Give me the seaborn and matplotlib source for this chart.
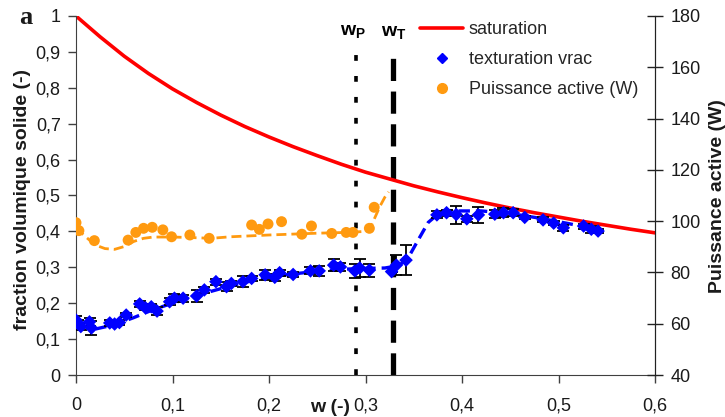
import matplotlib
matplotlib.use("Agg")
import matplotlib.pyplot as plt
import seaborn as sns
from matplotlib.ticker import MultipleLocator, FuncFormatter
from matplotlib.lines import Line2D

# --- saturation curve (solid volume fraction at saturation) ---
sat_w = [0.000, 0.025, 0.050, 0.075, 0.100, 0.125, 0.150, 0.175, 0.200, 0.225,
         0.250, 0.275, 0.300, 0.325, 0.350, 0.375, 0.400, 0.425, 0.450, 0.475,
         0.500, 0.525, 0.550, 0.575, 0.600]
sat_phi = [1.000, 0.942, 0.888, 0.840, 0.797, 0.759, 0.724, 0.692, 0.663, 0.636,
           0.611, 0.587, 0.565, 0.546, 0.527, 0.510, 0.494, 0.479, 0.465, 0.452,
           0.440, 0.428, 0.417, 0.406, 0.396]

# --- bulk texturing measurements (solid volume fraction) ---
tex_w = [0.000, 0.002, 0.005, 0.014, 0.016, 0.035, 0.040, 0.045, 0.052, 0.066,
         0.072, 0.078, 0.084, 0.097, 0.102, 0.111, 0.125, 0.133, 0.145, 0.156,
         0.161, 0.173, 0.182, 0.196, 0.206, 0.211, 0.225, 0.243, 0.252, 0.267,
         0.274, 0.289, 0.294, 0.304, 0.327, 0.332, 0.342, 0.374, 0.384, 0.394,
         0.405, 0.417, 0.434, 0.443, 0.453, 0.465, 0.484, 0.495, 0.505, 0.526,
         0.534, 0.541]
tex_phi = [0.153, 0.144, 0.135, 0.148, 0.131, 0.145, 0.142, 0.146, 0.167, 0.198,
           0.187, 0.190, 0.178, 0.204, 0.214, 0.214, 0.220, 0.237, 0.260, 0.246,
           0.255, 0.260, 0.269, 0.279, 0.272, 0.285, 0.280, 0.290, 0.290, 0.306,
           0.301, 0.290, 0.298, 0.292, 0.288, 0.306, 0.320, 0.446, 0.452, 0.447,
           0.435, 0.446, 0.448, 0.452, 0.452, 0.439, 0.432, 0.423, 0.410, 0.415,
           0.406, 0.401]
tex_err = [0.012, 0.008, 0.010, 0.012, 0.020, 0.008, 0.006, 0.006, 0.006, 0.008,
           0.006, 0.008, 0.012, 0.010, 0.012, 0.010, 0.016, 0.008, 0.008, 0.013,
           0.008, 0.016, 0.008, 0.014, 0.010, 0.008, 0.008, 0.010, 0.014, 0.016,
           0.010, 0.020, 0.025, 0.018, 0.000, 0.028, 0.042, 0.010, 0.008, 0.025,
           0.008, 0.023, 0.012, 0.013, 0.010, 0.005, 0.007, 0.006, 0.008, 0.007,
           0.010, 0.005]

# trend of the texturing data
tfit_w = [0.02, 0.04, 0.06, 0.08, 0.10, 0.12, 0.14, 0.16, 0.18, 0.20, 0.22, 0.25,
          0.28, 0.30, 0.32, 0.335, 0.345, 0.355, 0.365, 0.375, 0.39, 0.42, 0.45,
          0.48, 0.51, 0.54]
tfit_phi = [0.128, 0.140, 0.160, 0.182, 0.200, 0.216, 0.233, 0.248, 0.261, 0.272,
            0.280, 0.289, 0.295, 0.297, 0.298, 0.305, 0.330, 0.378, 0.425, 0.448,
            0.457, 0.457, 0.450, 0.437, 0.422, 0.405]

# --- active power (W) ---
pw_w = [0.000, 0.003, 0.019, 0.054, 0.062, 0.070, 0.079, 0.090, 0.099, 0.118,
        0.138, 0.182, 0.190, 0.199, 0.213, 0.234, 0.244, 0.265, 0.280, 0.287,
        0.304, 0.309]
pw_P = [99.4, 96.3, 92.4, 92.6, 95.6, 97.2, 97.6, 96.6, 93.9, 94.6,
        93.3, 98.5, 96.8, 98.9, 99.8, 94.9, 98.1, 95.2, 95.6, 95.6,
        97.2, 105.4]

# trend of the active power
pfit_w = [0.00, 0.01, 0.02, 0.03, 0.04, 0.05, 0.06, 0.07, 0.08, 0.10, 0.12, 0.14,
          0.16, 0.20, 0.25, 0.28, 0.30, 0.305, 0.31, 0.315, 0.32, 0.324]
pfit_P = [97.4, 93.9, 90.7, 89.3, 89.0, 90.1, 92.1, 93.3, 93.8, 93.8, 93.6, 93.3,
          93.9, 94.6, 95.3, 95.6, 96.0, 97.4, 101.6, 105.8, 109.3, 111.4]

# characteristic water contents
w_P = 0.29
w_T = 0.329

RED = "#FF0000"
BLUE = "#0000FF"
ORANGE = "#FF9A10"
INK = "#1a1a1a"

sns.set_style("ticks")
plt.rcParams["font.family"] = ["Liberation Sans", "DejaVu Sans"]
plt.rcParams["mathtext.fontset"] = "custom"
plt.rcParams["mathtext.rm"] = "Liberation Sans"
plt.rcParams["mathtext.bf"] = "Liberation Sans:bold"

fig = plt.figure(figsize=(7.25, 4.17), dpi=100)
ax = fig.add_axes([76 / 725, 42 / 417, 579 / 725, 359 / 417])
ax2 = ax.twinx()

# saturation
sns.lineplot(x=sat_w, y=sat_phi, ax=ax, color=RED, linewidth=2.6,
             label="saturation", zorder=2)

# texturing trend + data
sns.lineplot(x=tfit_w, y=tfit_phi, ax=ax, color=BLUE, linewidth=2.4,
             linestyle=(0, (3.4, 1.8)), legend=False, zorder=2)
ax.errorbar(tex_w, tex_phi, yerr=tex_err, fmt="none", ecolor="black",
            elinewidth=1.3, capsize=4.5, capthick=1.3, zorder=3)
sns.scatterplot(x=tex_w, y=tex_phi, ax=ax, marker="D", s=48, color=BLUE,
                edgecolor="none", label="texturation vrac", zorder=4)

# characteristic water contents
ax.vlines(w_P, 0, 0.912, colors="black", linewidth=2.6,
          linestyles=[(0, (1.6, 4.2))], zorder=1)
ax.vlines(w_T, 0, 0.89, colors="black", linewidth=3.8,
          linestyles=[(0, (4.2, 2.0))], zorder=1)
ax.text(w_P - 0.003, 0.957, r"$\mathbf{w_P}$", ha="center", va="center",
        fontsize=14, color="black")
ax.text(w_T, 0.955, r"$\mathbf{w_T}$", ha="center", va="center",
        fontsize=14, color="black")

# active power on the secondary axis
sns.lineplot(x=pfit_w, y=pfit_P, ax=ax2, color=ORANGE, linewidth=2.0,
             linestyle=(0, (3.6, 1.8)), legend=False, zorder=2)
sns.scatterplot(x=pw_w, y=pw_P, ax=ax2, marker="o", s=62, color=ORANGE,
                edgecolor="none", label="Puissance active (W)", zorder=4)

for a in (ax, ax2):
    if a.get_legend() is not None:
        a.get_legend().remove()

# axes ranges and ticks
comma = FuncFormatter(lambda v, p: ("%g" % round(v, 2)).replace(".", ","))
ax.set_xlim(0, 0.6)
ax.set_ylim(0, 1)
ax2.set_ylim(40, 180)
ax.xaxis.set_major_locator(MultipleLocator(0.1))
ax.yaxis.set_major_locator(MultipleLocator(0.1))
ax2.yaxis.set_major_locator(MultipleLocator(20))
ax.xaxis.set_major_formatter(comma)
ax.yaxis.set_major_formatter(comma)

ax.tick_params(axis="x", direction="out", length=6, width=1, pad=10,
               labelsize=13, colors="#404040", labelcolor=INK)
ax.tick_params(axis="y", direction="out", length=6, width=1, pad=5,
               labelsize=13, colors="#404040", labelcolor=INK)
ax2.tick_params(axis="y", direction="inout", length=12, width=1, pad=5,
                labelsize=13, colors="#222222", labelcolor=INK)

for a in (ax, ax2):
    a.spines["top"].set_visible(False)
ax.spines["left"].set_color("#404040")
ax.spines["bottom"].set_color("#404040")
ax2.spines["right"].set_color("#222222")
ax2.spines["left"].set_visible(False)
ax2.spines["bottom"].set_visible(False)

ax.set_xlabel("")
ax.set_ylabel("")
ax2.set_ylabel("")

fig.text(23 / 725, 1 - 200 / 417, "fraction volumique solide (-)", rotation=90,
         ha="center", va="center", fontsize=14, fontweight="bold", color=INK)
fig.text(717 / 725, 1 - 196 / 417, "Puissance active (W)", rotation=90,
         ha="center", va="center", fontsize=14, fontweight="bold", color=INK)
fig.text(330 / 725, 1 - 407 / 417, "w (-)", ha="center", va="center",
         fontsize=14, fontweight="bold", color=INK)
fig.text(26 / 725, 1 - 18 / 417, "a", ha="center", va="center", fontsize=19,
         fontweight="bold", family=["Liberation Serif", "DejaVu Serif"], color=INK)

# legend
handles = [
    Line2D([], [], color=RED, linewidth=2.6),
    Line2D([], [], color=BLUE, marker="D", linestyle="none", markersize=5.5),
    Line2D([], [], color=ORANGE, marker="o", linestyle="none", markersize=7),
]
labels = ["saturation", "texturation vrac", "Puissance active (W)"]
ax2.legend(handles, labels, loc="upper left", bbox_to_anchor=(0.594, 0.985),
           frameon=False, fontsize=13, handlelength=2.4, handletextpad=0.3,
           labelspacing=0.72, borderpad=0, borderaxespad=0)

fig.savefig("out.png", dpi=100, facecolor="white")
